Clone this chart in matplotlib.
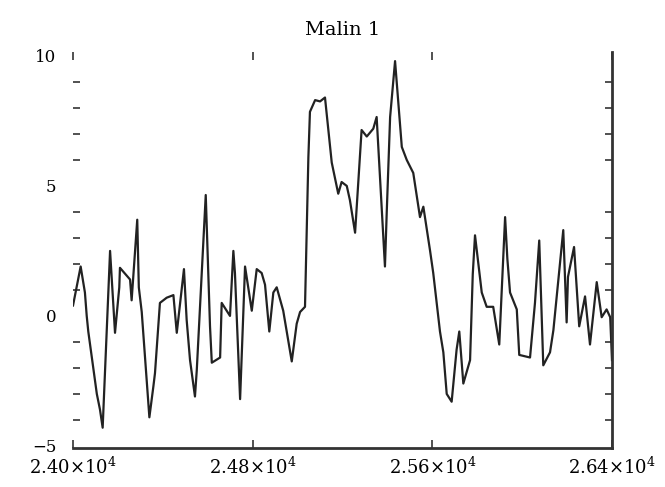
import matplotlib
matplotlib.use('Agg')
import matplotlib.pyplot as plt
from matplotlib.ticker import MultipleLocator

plt.rcParams['font.family'] = 'DejaVu Serif'
plt.rcParams['mathtext.fontset'] = 'dejavuserif'

# spectrum
wave = [24000, 24034, 24053, 24061, 24068, 24106, 24120, 24132, 24165, 24187,
        24206, 24209, 24254, 24261, 24286, 24293, 24306, 24340, 24358, 24365,
        24387, 24417, 24447, 24462, 24494, 24506, 24521, 24543, 24551, 24591,
        24610, 24618, 24655, 24662, 24699, 24714, 24721, 24744, 24766, 24796,
        24818, 24840, 24855, 24874, 24892, 24907, 24936, 24974, 24996, 25011,
        25033, 25048, 25055, 25078, 25100, 25122, 25137, 25152, 25181, 25196,
        25219, 25233, 25256, 25285, 25308, 25337, 25352, 25389, 25397, 25412,
        25434, 25464, 25486, 25515, 25545, 25560, 25590, 25604, 25634, 25649,
        25664, 25686, 25708, 25720, 25738, 25768, 25780, 25790, 25820, 25842,
        25871, 25898, 25924, 25934, 25946, 25976, 25987, 26035, 26057, 26076,
        26094, 26124, 26139, 26183, 26198, 26204, 26231, 26254, 26280, 26302,
        26332, 26354, 26376, 26392, 26400]
flux = [0.4, 1.9, 0.9, 0.0, -0.6, -3.0, -3.6, -4.3, 2.5, -0.65,
        1.1, 1.85, 1.4, 0.6, 3.7, 1.1, 0.15, -3.9, -2.7, -2.2,
        0.5, 0.7, 0.8, -0.65, 1.8, -0.15, -1.7, -3.1, -2.1, 4.65,
        -0.4, -1.8, -1.6, 0.5, 0.0, 2.5, 1.65, -3.2, 1.9, 0.2,
        1.8, 1.65, 1.2, -0.6, 0.9, 1.1, 0.2, -1.75, -0.3, 0.15,
        0.35, 6.1, 7.85, 8.3, 8.25, 8.4, 7.15, 5.9, 4.7, 5.15,
        5.0, 4.45, 3.2, 7.15, 6.9, 7.2, 7.65, 1.9, 4.0, 7.65,
        9.8, 6.5, 6.0, 5.5, 3.8, 4.2, 2.5, 1.65, -0.6, -1.4,
        -3.0, -3.3, -1.3, -0.6, -2.6, -1.7, 1.6, 3.1, 0.9, 0.35,
        0.35, -1.1, 3.8, 2.2, 0.9, 0.25, -1.5, -1.6, 0.5, 2.9,
        -1.9, -1.4, -0.55, 3.3, -0.25, 1.5, 2.65, -0.4, 0.75, -1.1,
        1.3, -0.05, 0.25, -0.05, -1.7]

xticks = [24000, 24800, 25600, 26400]
xticklabels = [r'2.40$\times$10$^{4}$', r'2.48$\times$10$^{4}$',
               r'2.56$\times$10$^{4}$', r'2.64$\times$10$^{4}$']
yticks = [-5, 0, 5, 10]
yticklabels = ['\u22125', '0', '5', '10']

fig = plt.figure(figsize=(6.65, 4.87), dpi=100)
ax = fig.add_axes([0.1098, 0.0801, 0.8105, 0.8131])
ax.plot(wave, flux, color='#222222', lw=1.6)

ax.set_xlim(24000, 26400)
ax.set_ylim(-5.08, 10.15)
ax.set_xticks(xticks)
ax.set_xticklabels(xticklabels, fontsize=13)
ax.set_yticks(yticks)
ax.set_yticklabels(yticklabels, fontsize=12)
ax.yaxis.set_minor_locator(MultipleLocator(1))

ax.spines['left'].set_visible(False)
ax.spines['top'].set_visible(False)
ax.spines['bottom'].set_linewidth(2)
ax.spines['bottom'].set_color('#333333')
ax.spines['right'].set_linewidth(2)
ax.spines['right'].set_color('#333333')

ax.tick_params(axis='x', which='major', direction='in', top=True, length=6,
               width=1.2, pad=6, color='#333333')
ax.tick_params(axis='y', which='major', direction='in', right=True, length=0, pad=12)
ax.tick_params(axis='y', which='minor', direction='in', left=True, right=True,
               length=5, width=1.2, color='#333333')

ax.set_title('Malin 1', fontsize=14, pad=12)

plt.savefig('out.png', dpi=100)
